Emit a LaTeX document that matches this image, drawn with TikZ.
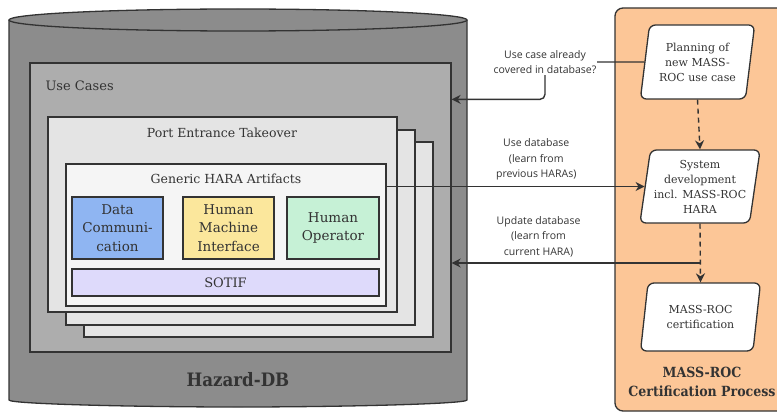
\documentclass[tikz,border=0pt]{standalone}
\usepackage{fontspec}
\setmainfont{DejaVu Serif}
\newfontfamily\titlefont{DejaVu Serif Condensed}
\newfontfamily\labelfont{Open Sans}
\usetikzlibrary{arrows.meta,shapes.geometric}

\definecolor{ink}{HTML}{333333}
\definecolor{cylgray}{HTML}{8C8C8C}
\definecolor{ucgray}{HTML}{ADADAD}
\definecolor{stackgray}{HTML}{E4E4E4}
\definecolor{artwhite}{HTML}{F5F5F5}
\definecolor{dcblue}{HTML}{8FB5F2}
\definecolor{hmiyellow}{HTML}{FBE79C}
\definecolor{opgreen}{HTML}{C6F1D6}
\definecolor{sotifviolet}{HTML}{DEDAFB}
\definecolor{procorange}{HTML}{FCC697}

\begin{document}
\begin{tikzpicture}[x=1pt,y=-1pt,
	box/.style={draw=ink,line width=1.3pt,rectangle,inner sep=0pt},
	artifact/.style={box,minimum height=62pt,align=center,text=ink,font=\fontsize{13.5}{18.5}\selectfont},
	stepshape/.style={draw=ink,line width=1.3pt,fill=white,trapezium,trapezium left angle=80,trapezium right angle=100,trapezium stretches=true,rounded corners=6pt,align=center,text=ink,font=\fontsize{11}{15}\selectfont},
	flow/.style={draw=ink,line width=1.4pt,-{Stealth[length=9pt,width=9pt]}},
	flowlabel/.style={text=ink,align=center,font=\labelfont\fontsize{10.5}{15.5}\selectfont}]
		\useasboundingbox (0,0) rectangle (777,412);
		
		% hazard database cylinder
		\filldraw[draw=ink,fill=cylgray,line width=1.3pt] (9,20) -- (9,400) .. controls (9,404) and (135,407) .. (238,407) .. controls (341,407) and (467,404) .. (467,400) -- (467,20);
		\filldraw[draw=ink,fill=cylgray,line width=1.3pt] (238,20) ellipse [x radius=229pt, y radius=11pt];
		\node[text=ink,font=\titlefont\bfseries\fontsize{18.5}{22}\selectfont] (dbtitle) at (238,380) {Hazard-DB};
		
		% use cases
		\node[box,fill=ucgray,minimum width=421pt,minimum height=289pt] (usecases) at (240.5,207.5) {};
		\node[anchor=west,text=ink,font=\fontsize{13}{16}\selectfont] (uctitle) at (42,86) {Use Cases};
		
		\node[box,fill=stackgray,minimum width=349pt,minimum height=195pt] (uc3) at (258.5,239.5) {};
		\node[box,fill=stackgray,minimum width=349pt,minimum height=195pt] (uc2) at (240.5,227.5) {};
		\node[box,fill=stackgray,minimum width=349pt,minimum height=195pt] (uc1) at (222.5,214.5) {};
		\node[text=ink,font=\fontsize{12.5}{15}\selectfont] (uc1title) at (222,133) {Port Entrance Takeover};
		
		% generic artifacts
		\node[box,fill=artwhite,minimum width=320pt,minimum height=142pt] (generic) at (226,235) {};
		\node[text=ink,font=\fontsize{12.5}{15}\selectfont] (gentitle) at (226,179) {Generic HARA Artifacts};
		\node[artifact,fill=dcblue,minimum width=91pt] (datacomm) at (117.5,228) {Data\\Communi-\\cation};
		\node[artifact,fill=hmiyellow,minimum width=91pt] (hmi) at (228.5,228) {Human\\Machine\\Interface};
		\node[artifact,fill=opgreen,minimum width=92pt] (operator) at (333,228) {Human\\Operator};
		\node[box,fill=sotifviolet,minimum width=307pt,minimum height=27pt,text=ink,font=\fontsize{13}{15}\selectfont] (sotif) at (225.5,282.5) {SOTIF};
		
		% certification process
		\filldraw[draw=ink,fill=procorange,line width=1.3pt,rounded corners=8pt] (615,8) rectangle (800,411);
		\node[text=ink,align=center,font=\titlefont\bfseries\fontsize{14}{19}\selectfont] (proctitle) at (702,382) {MASS-ROC\\Certification Process};
		\node[stepshape,minimum width=115pt,minimum height=74pt] (plan) at (697.5,62) {Planning of\\new MASS-\\ROC use case};
		\node[stepshape,minimum width=120pt,minimum height=73pt] (sysdev) at (700,186.5) {System\\development\\incl. MASS-ROC\\HARA};
		\node[stepshape,minimum width=121pt,minimum height=68pt] (cert) at (700.5,317) {MASS-ROC\\certification};
		
		\draw[flow,dash pattern=on 5pt off 4pt] (plan.south) -- (sysdev.north);
		\draw[flow,dash pattern=on 5pt off 4pt] (sysdev.south) -- (cert.north);
		
		% exchange with the database
		\draw[flow,rounded corners=5pt] (plan.west) -- (545,62) |- ([yshift=-37pt]usecases.north east);
		\node[flowlabel,fill=white,inner sep=1pt] (querylabel) at (545,62) {Use case already\\covered in database?};
		
		\draw[flow] (sysdev.west -| generic.east) -- (sysdev.west) node[flowlabel,pos=0.58,above=2pt] (uselabel) {Use database\\(learn from\\previous HARAs)};
		
		\coordinate (updstart) at (700,263);
		\draw[flow] (updstart) -- (updstart -| usecases.east) node[flowlabel,pos=0.65,above=2pt] (updlabel) {Update database\\(learn from\\current HARA)};
\end{tikzpicture}
\end{document}
